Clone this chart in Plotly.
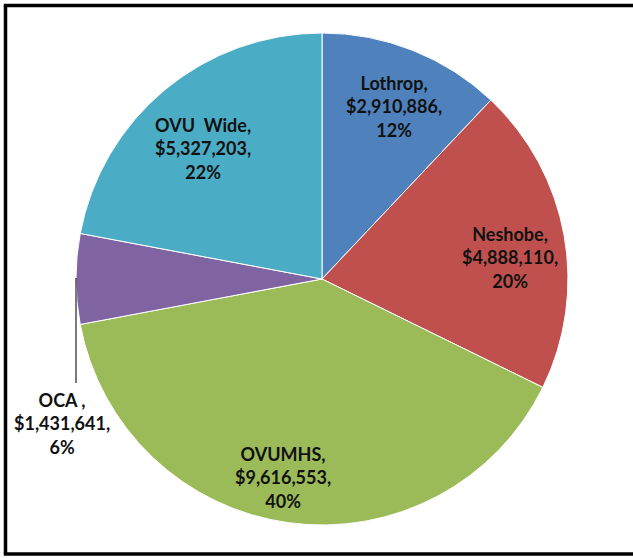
import plotly.graph_objects as go

# ---- data ----
labels = ["Lothrop", "Neshobe", "OVUMHS", "OCA ", "OVU  Wide"]
values = [2910886, 4888110, 9616553, 1431641, 5327203]
colors = ["#4F81BD", "#C0504D", "#9BBB59", "#8064A2", "#4BACC6"]

# label centres in pixels (layout placement of the data labels)
label_px = [(394, 107), (510, 257), (283, 477), (62, 423), (203, 148)]

W, H = 633, 558
total = sum(values)

fig = go.Figure(go.Pie(
    labels=labels,
    values=values,
    sort=False,
    direction="clockwise",
    rotation=0,
    marker=dict(colors=colors, line=dict(color="white", width=1)),
    textinfo="none",
    hoverinfo="skip",
    domain=dict(x=[76 / W, 568 / W], y=[1 - 525 / H, 1 - 33 / H]),
))

annotations = []
for lab, val, (px, py) in zip(labels, values, label_px):
    pct = round(100 * val / total)
    txt = f"{lab},<br>${val:,},<br>{pct}%"
    annotations.append(dict(
        x=px / W, y=1 - py / H, xref="paper", yref="paper",
        text=txt, showarrow=False, xanchor="center", yanchor="middle",
        align="center",
        font=dict(family="Lato", size=18, color="#111111", weight="bold"),
    ))

frame = dict(color="black", width=3.5)
xl, yt, yb = 5.5 / W, 1 - 5.5 / H, 1 - 554 / H
shapes = [
    # outer chart frame (top, left, bottom; right edge lies outside the view)
    dict(type="line", xref="paper", yref="paper", x0=xl - 1.7 / W, x1=1.0, y0=yt, y1=yt, line=frame),
    dict(type="line", xref="paper", yref="paper", x0=xl, x1=xl, y0=yb, y1=yt, line=frame),
    dict(type="line", xref="paper", yref="paper", x0=xl - 1.7 / W, x1=1.0, y0=yb, y1=yb, line=frame),
    # OCA leader line
    dict(type="line", xref="paper", yref="paper",
         x0=76 / W, x1=76 / W, y0=1 - 278 / H, y1=1 - 383 / H,
         line=dict(color="#222222", width=1.2)),
]

fig.update_layout(
    width=W, height=H,
    margin=dict(l=0, r=0, t=0, b=0),
    paper_bgcolor="white",
    plot_bgcolor="white",
    showlegend=False,
    annotations=annotations,
    shapes=shapes,
)

fig.write_html(
    "out.html",
    config={"displayModeBar": False},
    post_script="document.body.style.margin='0';document.body.style.overflow='hidden';",
)
